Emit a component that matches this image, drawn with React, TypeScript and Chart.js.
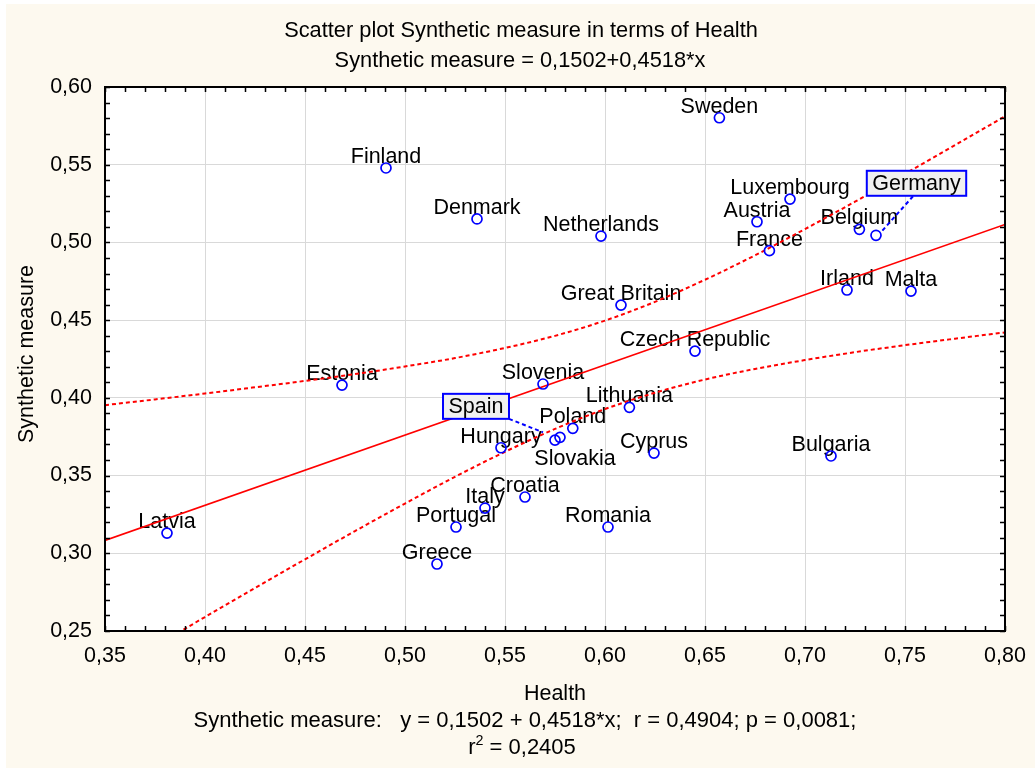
import React, { useEffect, useRef } from 'react';
import { Chart, registerables } from 'chart.js';

Chart.register(...registerables);

// ---------------- data ----------------
const countries = [
  'Sweden', 'Finland', 'Denmark', 'Netherlands', 'Luxembourg', 'Austria', 'Belgium',
  'Germany', 'France', 'Irland', 'Malta', 'Great Britain', 'Czech Republic', 'Estonia',
  'Slovenia', 'Lithuania', 'Poland', 'Spain', 'Slovakia', 'Hungary', 'Cyprus', 'Bulgaria',
  'Croatia', 'Italy', 'Portugal', 'Romania', 'Latvia', 'Greece',
];
const healthValues = [
  0.6572, 0.4905, 0.536, 0.598, 0.6925, 0.676, 0.7272,
  0.7355, 0.6822, 0.721, 0.753, 0.608, 0.645, 0.4685,
  0.569, 0.6122, 0.5839, 0.5775, 0.575, 0.548, 0.6245, 0.713,
  0.56, 0.54, 0.5255, 0.6015, 0.381, 0.516,
];
const syntheticValues = [
  0.5802, 0.5479, 0.5151, 0.5041, 0.5279, 0.5133, 0.5084,
  0.5046, 0.4947, 0.4694, 0.4687, 0.4597, 0.4301, 0.4082,
  0.4089, 0.3939, 0.3804, 0.3746, 0.3728, 0.3679, 0.3645, 0.3626,
  0.3362, 0.3291, 0.3169, 0.3169, 0.313, 0.2931,
];

// regression line end points (y = 0,1502 + 0,4518*x)
const regressionX = [0.35, 0.8];
const regressionY = [0.3083, 0.5116];

// 95% confidence band (dotted)
const bandX = [
  0.35, 0.375, 0.4, 0.425, 0.45, 0.475, 0.5, 0.525, 0.55, 0.575,
  0.6, 0.625, 0.65, 0.675, 0.7, 0.725, 0.75, 0.775, 0.8,
];
const bandUpper = [
  0.3953, 0.399, 0.4028, 0.4068, 0.4109, 0.4153, 0.4202, 0.4256, 0.4321, 0.4399,
  0.4497, 0.4618, 0.476, 0.4917, 0.5086, 0.5262, 0.5442, 0.5626, 0.5811,
];
const bandLower = [
  0.2213, 0.2402, 0.259, 0.2777, 0.2961, 0.3143, 0.332, 0.3492, 0.3653, 0.38,
  0.3928, 0.4033, 0.4118, 0.4186, 0.4243, 0.4294, 0.4339, 0.4381, 0.4421,
];

const titleLines = [
  'Scatter plot Synthetic measure in terms of Health',
  'Synthetic measure = 0,1502+0,4518*x',
];
const xAxisTitle = 'Health';
const yAxisTitle = 'Synthetic measure';
const footerLine1 = 'Synthetic measure:   y = 0,1502 + 0,4518*x;  r = 0,4904; p = 0,0081;';
const footerLine2a = 'r';
const footerLine2sup = '2';
const footerLine2b = ' = 0,2405';

// ---------------- styles ----------------
const FONT_FAMILY = '"Liberation Sans", Arial, sans-serif';
const FONT_SIZE = 21.5;
const TITLE_SIZE = 21.8;
const FOOTER_SIZE = 22;
const CREAM = '#fdf9ef';
const RED = '#ff0000';
const BLUE = '#0000ff';

const labelOffsets: Record<string, { dx: number; dy: number }> = {
  Slovakia: { dx: 20, dy: 25 },
};
const boxedLabels: Record<string, { cx: number; cy: number; lx0: number; ly0: number; lx1: number; ly1: number }> = {
  Spain: { cx: -84, cy: -31, lx0: 33, ly0: 12.5, lx1: -17, ly1: -5 },
  Germany: { cx: 40.5, cy: -52, lx0: -3.5, ly0: 13, lx1: 4, ly1: -2 },
};

const fmt = (v: number) => Number(v).toFixed(2).replace('.', ',');

const decorPlugin = {
  id: 'decor',
  beforeDraw(chart: any) {
    const ctx = chart.ctx;
    const { left, top, right, bottom } = chart.chartArea;
    ctx.save();
    ctx.fillStyle = '#ffffff';
    ctx.fillRect(0, 0, chart.width, chart.height);
    ctx.fillStyle = CREAM;
    ctx.fillRect(6, 4, chart.width - 6, chart.height - 6);
    ctx.fillStyle = '#ffffff';
    ctx.fillRect(left, top, right - left, bottom - top);
    ctx.restore();
  },
  beforeDatasetsDraw(chart: any) {
    const ctx = chart.ctx;
    const xs = chart.scales.x;
    const ys = chart.scales.y;
    ctx.save();
    ctx.font = `${FONT_SIZE}px ${FONT_FAMILY}`;
    ctx.fillStyle = '#000';
    ctx.textAlign = 'center';
    ctx.textBaseline = 'alphabetic';
    countries.forEach((name, i) => {
      if (boxedLabels[name]) return;
      const px = xs.getPixelForValue(healthValues[i]);
      const py = ys.getPixelForValue(syntheticValues[i]);
      const off = labelOffsets[name] || { dx: 0, dy: -5 };
      ctx.fillText(name, px + off.dx, py + off.dy);
    });
    ctx.restore();
  },
  afterDatasetsDraw(chart: any) {
    const ctx = chart.ctx;
    const xs = chart.scales.x;
    const ys = chart.scales.y;
    ctx.save();
    ctx.font = `${FONT_SIZE}px ${FONT_FAMILY}`;
    countries.forEach((name, i) => {
      const b = boxedLabels[name];
      if (!b) return;
      const px = xs.getPixelForValue(healthValues[i]);
      const py = ys.getPixelForValue(syntheticValues[i]);
      const cx = px + b.cx;
      const cy = py + b.cy;
      ctx.strokeStyle = BLUE;
      ctx.lineWidth = 2;
      ctx.setLineDash([4, 3]);
      ctx.beginPath();
      ctx.moveTo(cx + b.lx0, cy + b.ly0);
      ctx.lineTo(px + b.lx1, py + b.ly1);
      ctx.stroke();
      ctx.setLineDash([]);
      const w = ctx.measureText(name).width + 11;
      const h = 25;
      ctx.fillStyle = '#f0f0f0';
      ctx.fillRect(cx - w / 2, cy - h / 2, w, h);
      ctx.strokeStyle = BLUE;
      ctx.lineWidth = 2;
      ctx.strokeRect(cx - w / 2, cy - h / 2, w, h);
      ctx.fillStyle = '#000';
      ctx.textAlign = 'center';
      ctx.textBaseline = 'middle';
      ctx.fillText(name, cx, cy + 1);
    });
    ctx.restore();
  },
  afterDraw(chart: any) {
    const ctx = chart.ctx;
    const xs = chart.scales.x;
    const ys = chart.scales.y;
    const { left, top, right, bottom } = chart.chartArea;
    ctx.save();
    ctx.strokeStyle = '#000';
    ctx.lineWidth = 2;
    ctx.strokeRect(left, top, right - left, bottom - top);
    ctx.lineWidth = 1.5;
    ctx.beginPath();
    for (let k = 35; k <= 80; k++) {
      const x = Math.round(xs.getPixelForValue(k / 100)) + 0.5;
      ctx.moveTo(x, bottom);
      ctx.lineTo(x, bottom - 5);
      ctx.moveTo(x, top);
      ctx.lineTo(x, top + 5);
    }
    for (let k = 25; k <= 60; k++) {
      const y = Math.round(ys.getPixelForValue(k / 100)) + 0.5;
      ctx.moveTo(left, y);
      ctx.lineTo(left + 5, y);
      ctx.moveTo(right, y);
      ctx.lineTo(right - 5, y);
    }
    ctx.stroke();

    ctx.fillStyle = '#000';
    ctx.textAlign = 'center';
    ctx.textBaseline = 'alphabetic';
    ctx.font = `${TITLE_SIZE}px ${FONT_FAMILY}`;
    ctx.fillText(titleLines[0], 521, 37);
    ctx.fillText(titleLines[1], 520, 67);
    ctx.font = `${FONT_SIZE}px ${FONT_FAMILY}`;
    ctx.fillText(xAxisTitle, (left + right) / 2, 700);
    ctx.font = `${FOOTER_SIZE}px ${FONT_FAMILY}`;
    ctx.fillText(footerLine1, 525, 727);

    const wa = ctx.measureText(footerLine2a).width;
    const wb = ctx.measureText(footerLine2b).width;
    ctx.font = `${FOOTER_SIZE * 0.65}px ${FONT_FAMILY}`;
    const ws = ctx.measureText(footerLine2sup).width;
    const total = wa + ws + wb;
    const x0 = 522 - total / 2;
    ctx.textAlign = 'left';
    ctx.font = `${FOOTER_SIZE}px ${FONT_FAMILY}`;
    ctx.fillText(footerLine2a, x0, 754);
    ctx.font = `${FOOTER_SIZE * 0.65}px ${FONT_FAMILY}`;
    ctx.fillText(footerLine2sup, x0 + wa, 745);
    ctx.font = `${FOOTER_SIZE}px ${FONT_FAMILY}`;
    ctx.fillText(footerLine2b, x0 + wa + ws, 754);

    ctx.save();
    ctx.font = `${FONT_SIZE}px ${FONT_FAMILY}`;
    ctx.translate(27, 354);
    ctx.rotate(-Math.PI / 2);
    ctx.textAlign = 'center';
    ctx.textBaseline = 'middle';
    ctx.fillText(yAxisTitle, 0, 0);
    ctx.restore();

    ctx.restore();
  },
};

export default function App() {
  const canvasRef = useRef<HTMLCanvasElement | null>(null);

  useEffect(() => {
    const canvas = canvasRef.current;
    if (!canvas) return;
    const points = healthValues.map((x, i) => ({ x, y: syntheticValues[i] }));
    const regLine = regressionX.map((x, i) => ({ x, y: regressionY[i] }));
    const upper = bandX.map((x, i) => ({ x, y: bandUpper[i] }));
    const lower = bandX.map((x, i) => ({ x, y: bandLower[i] }));

    const chart = new Chart(canvas, {
      type: 'scatter',
      data: {
        datasets: [
          {
            label: 'countries',
            data: points,
            pointRadius: 5,
            pointBorderWidth: 1.7,
            borderColor: BLUE,
            pointBorderColor: BLUE,
            backgroundColor: 'rgba(0,0,0,0)',
            pointBackgroundColor: 'rgba(0,0,0,0)',
            showLine: false,
          },
          {
            label: 'regression',
            data: regLine,
            showLine: true,
            borderColor: RED,
            borderWidth: 1.6,
            pointRadius: 0,
          },
          {
            label: 'upper',
            data: upper,
            showLine: true,
            borderColor: RED,
            borderWidth: 2,
            borderDash: [4, 3],
            pointRadius: 0,
            cubicInterpolationMode: 'monotone',
          },
          {
            label: 'lower',
            data: lower,
            showLine: true,
            borderColor: RED,
            borderWidth: 2,
            borderDash: [4, 3],
            pointRadius: 0,
            cubicInterpolationMode: 'monotone',
          },
        ],
      } as any,
      options: {
        responsive: false,
        maintainAspectRatio: false,
        devicePixelRatio: 1,
        animation: false,
        events: [],
        layout: { padding: { left: 0, top: 87, right: 30, bottom: 0 } },
        plugins: {
          legend: { display: false },
          tooltip: { enabled: false },
          title: { display: false },
        },
        scales: {
          x: {
            type: 'linear',
            min: 0.35,
            max: 0.8,
            border: { display: false },
            grid: { color: '#d9d9d9', lineWidth: 1, drawTicks: false },
            ticks: {
              stepSize: 0.05,
              padding: 12,
              color: '#000',
              font: { family: FONT_FAMILY, size: FONT_SIZE },
              maxRotation: 0,
              autoSkip: false,
              callback: (v: any) => fmt(v),
            },
            afterFit: (scale: any) => {
              scale.height = 139;
              scale.paddingLeft = 0;
              scale.paddingRight = 0;
            },
          },
          y: {
            type: 'linear',
            min: 0.25,
            max: 0.6,
            border: { display: false },
            grid: { color: '#d9d9d9', lineWidth: 1, drawTicks: false },
            ticks: {
              stepSize: 0.05,
              padding: 13,
              color: '#000',
              font: { family: FONT_FAMILY, size: FONT_SIZE },
              autoSkip: false,
              callback: (v: any) => fmt(v),
            },
            afterFit: (scale: any) => {
              scale.width = 105;
              scale.paddingTop = 0;
              scale.paddingBottom = 0;
            },
          },
        },
      } as any,
      plugins: [decorPlugin],
    });
    return () => chart.destroy();
  }, []);

  return (
    <div style={{ position: 'absolute', left: 0, top: 0, width: 1035, height: 770 }}>
      <canvas ref={canvasRef} width={1035} height={770} style={{ display: 'block', width: 1035, height: 770 }} />
    </div>
  );
}
